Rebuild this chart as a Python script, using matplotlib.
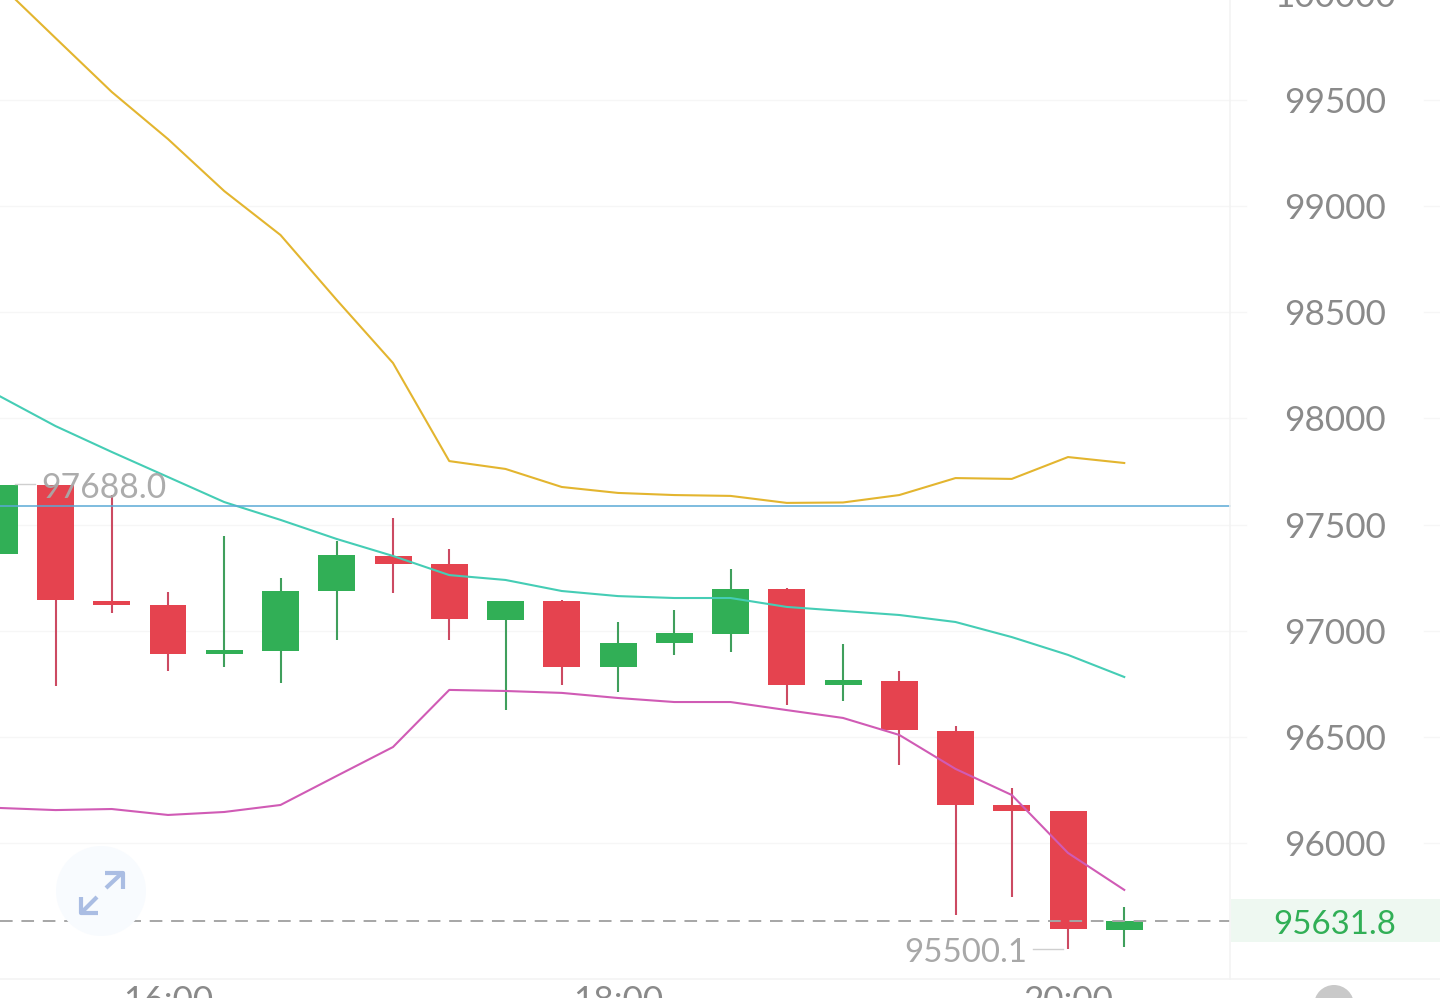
#!/usr/bin/env python3
"""Recreate the BTC-style 15 minute candlestick screenshot with Bollinger bands."""

import matplotlib
matplotlib.use("Agg")
import matplotlib.pyplot as plt
from matplotlib.patches import Circle, Rectangle

plt.rcParams["font.family"] = ["Lato", "DejaVu Sans"]

# ── Data ──────────────────────────────────────────────────────────────────

# The first candle sits mostly off screen, at 15:15
HOURS = [15.25, 15.5, 15.75, 16.0, 16.25, 16.5, 16.75, 17.0, 17.25, 17.5, 17.75,
         18.0, 18.25, 18.5, 18.75, 19.0, 19.25, 19.5, 19.75, 20.0, 20.25]

OPEN = [97361, 97686, 97140, 97121, 96890, 96904, 97187, 97352, 97314, 97050, 97140,
        96829, 96942, 96984, 97196, 96744, 96763, 96528, 96179, 96151, 95590]
CLOSE = [97686, 97145, 97121, 96890, 96909, 97187, 97357, 97314, 97055, 97140, 96829,
         96942, 96989, 97196, 96744, 96768, 96532, 96179, 96151, 95595, 95632]
HIGH = [97688, 97688, 97639, 97182, 97446, 97248, 97423, 97531, 97385, 97140, 97145,
        97041, 97098, 97291, 97201, 96937, 96810, 96551, 96259, 96151, 95698]
LOW = [97361, 96740, 97083, 96810, 96829, 96754, 96956, 97178, 96956, 96626, 96744,
       96711, 96886, 96900, 96650, 96669, 96367, 95661, 95746, 95501, 95510]

UPPER = [100047, 99792, 99538, 99316, 99071, 98864, 98558, 98261, 97799, 97762, 97677,
         97649, 97639, 97635, 97602, 97604, 97639, 97719, 97715, 97818, 97790]
MIDDLE = [98106, 97964, 97842, 97724, 97606, 97522, 97432, 97352, 97262, 97239, 97187,
          97163, 97154, 97154, 97112, 97093, 97074, 97041, 96970, 96886, 96782]
LOWER = [96165, 96155, 96160, 96132, 96146, 96179, 96316, 96452, 96721, 96716, 96707,
         96683, 96664, 96664, 96626, 96589, 96509, 96349, 96226, 95953, 95779]

PRICE_TICKS = [96000, 96500, 97000, 97500, 98000, 98500, 99000, 99500, 100000]
TIME_TICKS = [16.0, 18.0, 20.0]
TIME_LABELS = ["16:00", "18:00", "20:00"]

LAST_PRICE = 95631.8
REF_LINE = 97587
HIGH_LABEL = 97688.0
LOW_LABEL = 95500.1

# ── Styling ───────────────────────────────────────────────────────────────

RED = "#E5434F"
GREEN = "#31AF56"
RED_WICK = "#CC4A62"
GREEN_WICK = "#3F9F5C"
GRID = "#F6F6F6"
TICK_TEXT = "#8A8A8A"
MARK_TEXT = "#A8A8A8"

W, H = 1440, 998
PX_PER_HOUR = 225.0
PX_PER_PRICE = 106.14 / 500.0


def main():
    fig = plt.figure(figsize=(W / 100, H / 100), dpi=100, facecolor="white")

    # Main axes fill the whole screen, limits calibrated from tick positions
    ax = fig.add_axes([0, 0, 1, 1])
    ax.set_xlim(20.0 - 1068 / PX_PER_HOUR, 20.0 + (W - 1068) / PX_PER_HOUR)
    ax.set_ylim(99500 - (H - 100) / PX_PER_PRICE, 99500 + 100 / PX_PER_PRICE)
    ax.axis("off")

    # Pixel overlay for the app furniture
    ui = fig.add_axes([0, 0, 1, 1], facecolor="none")
    ui.set_xlim(0, W)
    ui.set_ylim(H, 0)
    ui.axis("off")

    candle_w = 37 / PX_PER_HOUR

    for price in PRICE_TICKS:
        ax.plot([0, 1246 / W], [price, price], transform=ax.get_yaxis_transform(),
                color=GRID, lw=1, zorder=1)
        ax.plot([1424 / W, 1], [price, price], transform=ax.get_yaxis_transform(),
                color=GRID, lw=1, zorder=1)
        ui.text(1335, _y_px(price), f"{price}", ha="center", va="center_baseline",
                fontsize=25.3, color=TICK_TEXT, zorder=6)

    ui.plot([0, W], [979, 979], color="#F3F3F3", lw=1.2, zorder=1)
    ui.plot([1230, 1230], [0, 979], color="#F3F3F3", lw=1.2, zorder=1)

    for x, label in zip(TIME_TICKS, TIME_LABELS):
        ax.text(x, 95270, label, ha="center", va="center_baseline",
                fontsize=25.3, color=TICK_TEXT, zorder=6)

    # Candles
    for x, o, c, hi, lo in zip(HOURS, OPEN, CLOSE, HIGH, LOW):
        up = c >= o
        ax.plot([x, x], [lo, hi], color=GREEN_WICK if up else RED_WICK,
                lw=1.5, solid_capstyle="butt", zorder=3)
        ax.bar(x, abs(c - o), width=candle_w, bottom=min(o, c),
               color=GREEN if up else RED, linewidth=0, zorder=4)

    # Bands
    ax.plot(HOURS, UPPER, color="#E3B52F", lw=1.5, zorder=5)
    ax.plot(HOURS, MIDDLE, color="#45CDB5", lw=1.5, zorder=5)
    ax.plot(HOURS, LOWER, color="#D05BB5", lw=1.5, zorder=5)

    ax.plot([0, 1230 / W], [REF_LINE, REF_LINE], transform=ax.get_yaxis_transform(),
            color="#5AA9D6", lw=1.1, zorder=5)
    ax.plot([0, 1230 / W], [LAST_PRICE, LAST_PRICE], transform=ax.get_yaxis_transform(),
            color="#A6A6A6", lw=1.4, dashes=(6.5, 4.5), zorder=5)

    # High / low marks
    ui.plot([15, 35], [484, 484], color="#CFCFCF", lw=1, zorder=6)
    ui.text(41, 485, f"{HIGH_LABEL:.1f}", ha="left", va="center_baseline",
            fontsize=24.2, color=MARK_TEXT, alpha=0.95, zorder=7)
    ui.plot([1033, 1063], [949, 949], color="#CFCFCF", lw=1, zorder=6)
    ui.text(1027, 950, f"{LOW_LABEL:.1f}", ha="right", va="center_baseline",
            fontsize=23.8, color=MARK_TEXT, zorder=7)

    # Last price tag
    ui.add_patch(Rectangle((1231, 899), W - 1231, 43, facecolor="#EEF8F1",
                           edgecolor="none", zorder=5))
    ui.text(1335, 922, f"{LAST_PRICE:.1f}", ha="center", va="center_baseline",
            fontsize=23.8, color=GREEN, zorder=7)

    # Expand button and bottom scroll button
    ui.add_patch(Circle((101, 891), 45, facecolor="#F8FBFE", edgecolor="none", zorder=2))
    icon = dict(color="#AABDE3", lw=3, solid_capstyle="butt", zorder=6)
    ui.plot([106, 122], [888, 873], **icon)
    ui.plot([105, 123, 123], [873, 873, 889], **icon)
    ui.plot([97, 81], [897, 913], **icon)
    ui.plot([81, 81, 98], [897, 913, 913], **icon)
    ui.add_patch(Circle((1334, 1005), 20, facecolor="#C9C9C9", edgecolor="none", zorder=6))

    fig.savefig("out.png", dpi=100, facecolor="white")
    plt.close(fig)


def _y_px(price):
    return 100 + (99500 - price) * PX_PER_PRICE


if __name__ == "__main__":
    main()
